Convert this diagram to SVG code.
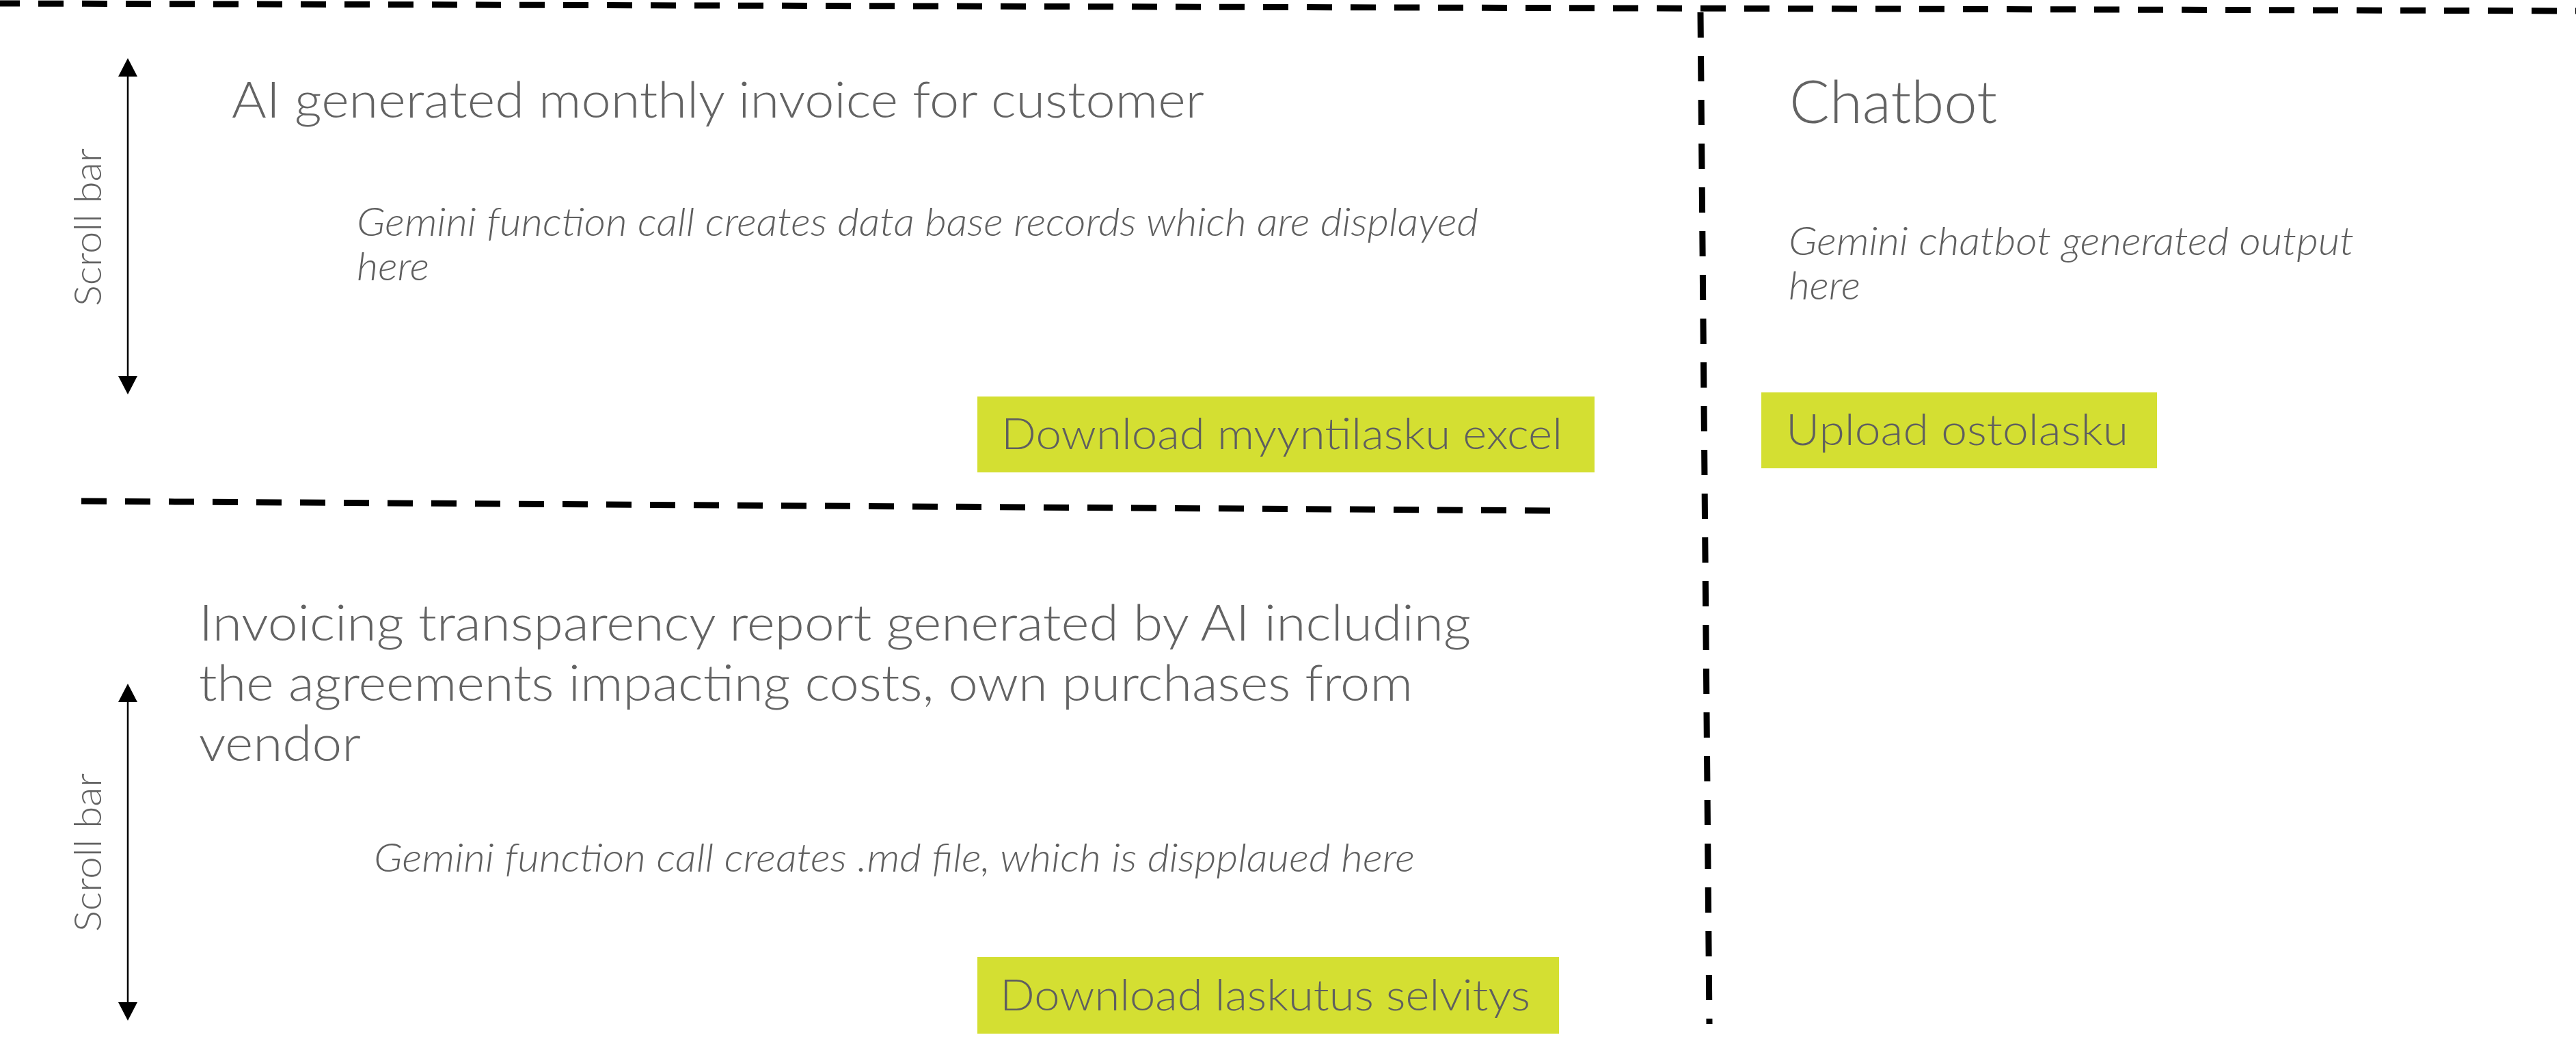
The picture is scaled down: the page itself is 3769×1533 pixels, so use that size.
<svg xmlns="http://www.w3.org/2000/svg" width="3769" height="1533" viewBox="0 0 3769 1533">
  <style>
    .bg { fill: #ffffff; }
    .title { font-family: Lato, "Open Sans", "Liberation Sans", sans-serif; font-weight: 300; font-size: 72px; fill: #636363; }
    .chat { font-family: Lato, "Open Sans", "Liberation Sans", sans-serif; font-weight: 300; font-size: 86px; fill: #636363; }
    .note { font-family: Lato, "Open Sans", "Liberation Sans", sans-serif; font-weight: 300; font-style: italic; font-size: 57px; fill: #5f5f5f; }
    .btn { fill: #d4df32; }
    .btntxt { font-family: Lato, "Open Sans", "Liberation Sans", sans-serif; font-weight: 300; font-size: 64px; fill: #5f5f5f; }
    .scroll { font-family: Lato, "Open Sans", "Liberation Sans", sans-serif; font-weight: 300; font-size: 55px; fill: #636363; }
    .dash { fill: none; stroke: #000000; stroke-width: 9; stroke-dasharray: 37 27; }
    .arrow { fill: none; stroke: #000000; stroke-width: 2.5; marker-start: url(#tip); marker-end: url(#tip); }
  </style>
  <defs>
    <marker id="tip" viewBox="0 0 27 28" markerWidth="27" markerHeight="28" refX="0" refY="14" markerUnits="userSpaceOnUse" orient="auto-start-reverse">
      <path d="M0,0 L27,14 L0,28 Z" fill="#000000"/>
    </marker>
  </defs>
  <rect class="bg" x="0" y="0" width="3769" height="1533"/>

  <g id="connectors">
    <line class="dash" x1="0" y1="5" x2="3769" y2="16" stroke-dashoffset="8"/>
    <line class="dash" x1="2488" y1="18" x2="2501" y2="1498"/>
    <line class="dash" x1="119" y1="733" x2="2271" y2="747"/>
    <line class="arrow" x1="187" y1="112" x2="187" y2="550"/>
    <line class="arrow" x1="187" y1="1027" x2="187" y2="1466"/>
  </g>

  <g id="invoice-panel">
    <text class="scroll" transform="translate(148,448) rotate(-90)" textLength="231" lengthAdjust="spacingAndGlyphs">Scroll bar</text>
    <text class="title" x="339" y="172" textLength="1423" lengthAdjust="spacingAndGlyphs">AI generated monthly invoice for customer</text>
    <text class="note" x="522" y="345" textLength="1641" lengthAdjust="spacingAndGlyphs">Gemini function call creates data base records which are displayed</text>
    <text class="note" x="522" y="410" textLength="106" lengthAdjust="spacingAndGlyphs">here</text>
  </g>

  <g id="download-myyntilasku">
    <rect class="btn" x="1430" y="580" width="903" height="111"/>
    <text class="btntxt" x="1465" y="657" textLength="821" lengthAdjust="spacingAndGlyphs">Download myyntilasku excel</text>
  </g>

  <g id="report-panel">
    <text class="scroll" transform="translate(148,1363) rotate(-90)" textLength="232" lengthAdjust="spacingAndGlyphs">Scroll bar</text>
    <text class="title" x="291" y="937" textLength="1861" lengthAdjust="spacingAndGlyphs">Invoicing transparency report generated by AI including</text>
    <text class="title" x="291" y="1025" textLength="1776" lengthAdjust="spacingAndGlyphs">the agreements impacting costs, own purchases from</text>
    <text class="title" x="291" y="1113" textLength="237" lengthAdjust="spacingAndGlyphs">vendor</text>
    <text class="note" x="547" y="1275" textLength="1523" lengthAdjust="spacingAndGlyphs">Gemini function call creates .md file, which is dispplaued here</text>
  </g>

  <g id="download-laskutus">
    <rect class="btn" x="1430" y="1400" width="851" height="112"/>
    <text class="btntxt" x="1463" y="1478" textLength="776" lengthAdjust="spacingAndGlyphs">Download laskutus selvitys</text>
  </g>

  <g id="chatbot-panel">
    <text class="chat" x="2618" y="180" textLength="304" lengthAdjust="spacingAndGlyphs">Chatbot</text>
    <text class="note" x="2617" y="373" textLength="827" lengthAdjust="spacingAndGlyphs">Gemini chatbot generated output</text>
    <text class="note" x="2617" y="438" textLength="105" lengthAdjust="spacingAndGlyphs">here</text>
  </g>

  <g id="upload-ostolasku">
    <rect class="btn" x="2577" y="574" width="579" height="111"/>
    <text class="btntxt" x="2613" y="651" textLength="501" lengthAdjust="spacingAndGlyphs">Upload ostolasku</text>
  </g>
</svg>
